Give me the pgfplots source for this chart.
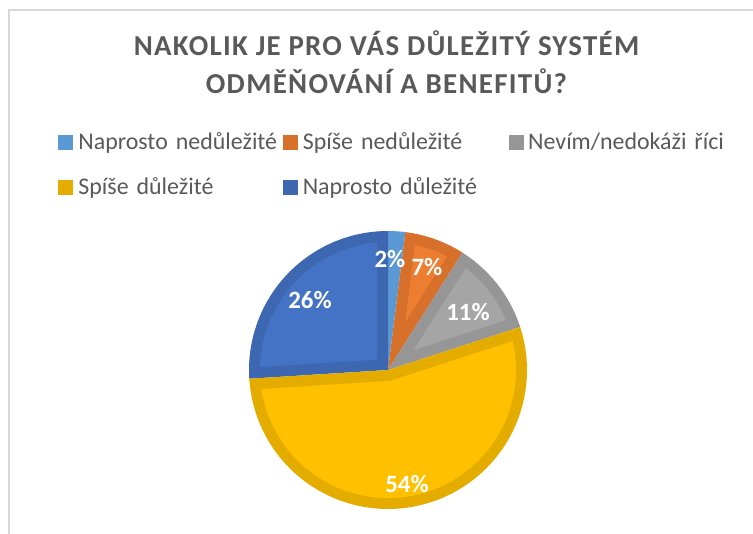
\documentclass[border=0pt]{standalone}
\usepackage{fontspec}
\setmainfont{Carlito}
\newfontfamily\titlefont[LetterSpace=4.5]{Carlito}
\usepackage{pgfplots}
\usepackage{pgfplotstable}
\pgfplotsset{compat=1.18}

\definecolor{txt}{HTML}{595959}
\definecolor{framec}{HTML}{D9D9D9}
\definecolor{cAd}{HTML}{5A99D3}\definecolor{cAl}{HTML}{5B9BD5}
\definecolor{cBd}{HTML}{D6702B}\definecolor{cBl}{HTML}{ED7D31}
\definecolor{cCd}{HTML}{969696}\definecolor{cCl}{HTML}{A5A5A5}
\definecolor{cDd}{HTML}{E5AC00}\definecolor{cDl}{HTML}{FFC000}
\definecolor{cEd}{HTML}{3D67B0}\definecolor{cEl}{HTML}{4472C4}

\pgfplotstableread{
share
2
7
11
54
26
}\piedata

\def\cx{388}\def\cy{164}\def\R{139}\def\bandw{11}

\newcommand\slice[4]{%
  \pgfmathsetmacro\thta{(#2)-(#1)}%
  \pgfmathsetmacro\mdang{((#1)+(#2))/2}%
  \edef\doslice{\noexpand\addplot[fill=#3, draw=none, forget plot, domain=#1:#2, samples=90, variable=\noexpand\t] ({\cx+\R*cos(\noexpand\t)},{\cy+\R*sin(\noexpand\t)}) -- (axis cs:\cx,\cy) -- cycle;}%
  \doslice
  \pgfmathsetmacro\soff{\bandw/sin(\thta/2)}%
  \pgfmathtruncatemacro\okk{\soff < (\R-\bandw) ? 1 : 0}%
  \ifnum\okk=1
    \pgfmathsetmacro\dphi{asin(\bandw/(\R-\bandw))}%
    \pgfmathsetmacro\loang{(#1)+\dphi}\pgfmathsetmacro\hiang{(#2)-\dphi}%
    \pgfmathsetmacro\apx{\cx+\soff*cos(\mdang)}\pgfmathsetmacro\apy{\cy+\soff*sin(\mdang)}%
    \edef\doslice{\noexpand\addplot[fill=#4, draw=none, forget plot, domain=\loang:\hiang, samples=90, variable=\noexpand\t] ({\cx+(\R-\bandw)*cos(\noexpand\t)},{\cy+(\R-\bandw)*sin(\noexpand\t)}) -- (axis cs:\apx,\apy) -- cycle;}%
    \doslice
  \fi
}

\begin{document}
\begin{tikzpicture}
\path[use as bounding box] (0,0) rectangle (753bp,534bp);
\pgfplotstablegetelem{0}{share}\of\piedata\edef\vA{\pgfplotsretval}
\pgfplotstablegetelem{1}{share}\of\piedata\edef\vB{\pgfplotsretval}
\pgfplotstablegetelem{2}{share}\of\piedata\edef\vC{\pgfplotsretval}
\pgfplotstablegetelem{3}{share}\of\piedata\edef\vD{\pgfplotsretval}
\pgfplotstablegetelem{4}{share}\of\piedata\edef\vE{\pgfplotsretval}
\pgfmathsetmacro\aA{90-3.6*\vA}
\pgfmathsetmacro\aB{\aA-3.6*\vB}
\pgfmathsetmacro\aC{\aB-3.6*\vC}
\pgfmathsetmacro\aD{\aC-3.6*\vD}
\pgfmathsetmacro\aE{\aD-3.6*\vE}
\begin{axis}[
  x=1bp, y=1bp, xmin=0, xmax=753, ymin=0, ymax=534,
  hide axis, clip=false, anchor=origin, at={(0,0)},
  legend cell align=left,
  legend columns=3,
  legend style={at={(axis cs:58,401.4)}, anchor=north west, draw=none, fill=none,
    inner sep=0pt, outer sep=0pt, column sep=0pt, row sep=23bp,
    font=\fontsize{24}{28}\selectfont, text=txt,
    nodes={inner sep=0pt, text height=17bp, text depth=5bp},
    /tikz/column 2/.style={text width=205bp, align=left},
    /tikz/column 4/.style={text width=206bp, align=left},
    /tikz/column 6/.style={text width=200bp, align=left}},
]
\slice{\aA}{90}{cAd}{cAl}
\slice{\aB}{\aA}{cBd}{cBl}
\slice{\aC}{\aB}{cCd}{cCl}
\slice{\aE}{\aD}{cEd}{cEl}
\slice{\aD}{\aC}{cDd}{cDl}

\addlegendimage{legend image code/.code={\fill[cAd] (0bp,-5.5bp) rectangle (14bp,8.5bp); \path (20bp,0bp);}}
\addlegendentry{Naprosto nedůležité}
\addlegendimage{legend image code/.code={\fill[cBd] (0bp,-5.5bp) rectangle (14bp,8.5bp); \path (19bp,0bp);}}
\addlegendentry{Spíše nedůležité}
\addlegendimage{legend image code/.code={\fill[cCd] (0bp,-5.5bp) rectangle (14bp,8.5bp); \path (19bp,0bp);}}
\addlegendentry{Nevím/nedokáži říci}
\addlegendimage{legend image code/.code={\fill[cDd] (0bp,-5.5bp) rectangle (14bp,8.5bp); \path (20bp,0bp);}}
\addlegendentry{Spíše důležité}
\addlegendimage{legend image code/.code={\fill[cEd] (0bp,-5.5bp) rectangle (14bp,8.5bp); \path (19bp,0bp);}}
\addlegendentry{Naprosto důležité}

\draw[framec, line width=1.5bp] (axis cs:9,0) -- (axis cs:9,524) -- (axis cs:753,524);

\node[text=txt, font=\titlefont\fontsize{29}{34}\selectfont\bfseries, anchor=base] at (axis cs:386.5,478) {NAKOLIK JE PRO VÁS DŮLEŽITÝ SYSTÉM};
\node[text=txt, font=\titlefont\fontsize{29}{34}\selectfont\bfseries, anchor=base] at (axis cs:386.5,440) {ODMĚŇOVÁNÍ A BENEFITŮ?};

\node[text=white, font=\fontsize{25}{28}\selectfont\bfseries] at (axis cs:310,234) {26\%};
\node[text=white, font=\fontsize{25}{28}\selectfont\bfseries] at (axis cs:390,275) {2\%};
\node[text=white, font=\fontsize{25}{28}\selectfont\bfseries] at (axis cs:427,267) {7\%};
\node[text=white, font=\fontsize{25}{28}\selectfont\bfseries] at (axis cs:468,222) {11\%};
\node[text=white, font=\fontsize{25}{28}\selectfont\bfseries] at (axis cs:407,50) {54\%};
\end{axis}
\end{tikzpicture}
\end{document}
